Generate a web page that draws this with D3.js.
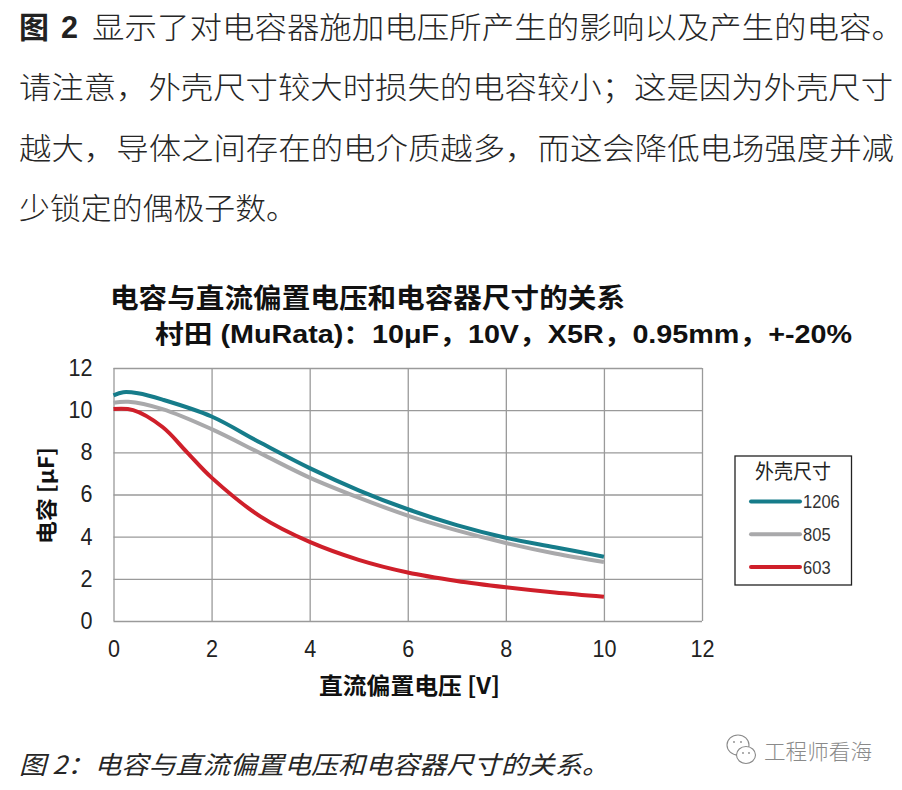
<!DOCTYPE html>
<html>
<head>
<meta charset="utf-8">
<script src="https://cdn.jsdelivr.net/npm/d3@7"></script>
<style>
    html, body { margin: 0; padding: 0; background: #fff; }
    svg { display: block; }
    text { font-family: "Liberation Sans", "Noto Sans CJK SC", sans-serif; }
</style>
</head>
<body>
<div id="chart"></div>
<script>
/*---------------------------Data---------------------------*/

//full width punctuation
const COMMA = "\uFF0C";
const SEMI = "\uFF1B";
const COLON = "\uFF1A";

const BODY_LINES = [
    "显示了对电容器施加电压所产生的影响以及产生的电容。",
    `请注意${COMMA}外壳尺寸较大时损失的电容较小${SEMI}这是因为外壳尺寸`,
    `越大${COMMA}导体之间存在的电介质越多${COMMA}而这会降低电场强度并减`,
    "少锁定的偶极子数。"
];
const TITLE_1 = "电容与直流偏置电压和电容器尺寸的关系";
const TITLE_2 = `村田 (MuRata)${COLON}10μF${COMMA}10V${COMMA}X5R${COMMA}0.95mm${COMMA}+-20%`;
const X_LABEL = "直流偏置电压 [V]";
const Y_LABEL = "电容 [μF]";
const LEGEND_TITLE = "外壳尺寸";
const CAPTION = `图 2${COLON}电容与直流偏置电压和电容器尺寸的关系。`;
const WATERMARK = "工程师看海";

const X_TICKS = [0, 2, 4, 6, 8, 10, 12];
const Y_TICKS = [0, 2, 4, 6, 8, 10, 12];

const SIZES = ["1206", "805", "603"];
const VOLTS_1206 = [0, 0.2, 0.5, 1, 2, 3, 4, 5, 6, 7, 8, 9, 10];
const CAP_1206 = [10.7, 10.85, 10.8, 10.5, 9.7, 8.45, 7.25, 6.2, 5.3, 4.55, 3.95, 3.5, 3.05];
const VOLTS_805 = [0, 0.3, 1, 2, 3, 4, 5, 6, 7, 8, 9, 10];
const CAP_805 = [10.35, 10.4, 10.05, 9.1, 7.95, 6.8, 5.85, 5.0, 4.3, 3.7, 3.2, 2.8];
const VOLTS_603 = [0, 0.4, 1, 1.5, 2, 3, 4, 5, 6, 7, 8, 9, 10];
const CAP_603 = [10.05, 10.0, 9.2, 8.0, 6.8, 4.95, 3.75, 2.9, 2.3, 1.9, 1.6, 1.35, 1.15];

/*---------------------------Init---------------------------*/

const WIDTH = 902;
const HEIGHT = 790;
const PLOT = { left: 113.5, right: 702, top: 368, bottom: 621 };
const COLOR = { "1206": "#167c8a", "805": "#a9a9ab", "603": "#cf1f2a" };
const TEXT_COLOR = "#262626";
const CJK = '"Noto Sans CJK SC", sans-serif';

const svg = d3.select("#chart").append("svg").attr("width", WIDTH).attr("height", HEIGHT);

const xScale = d3.scaleLinear().domain([0, 12]).range([PLOT.left, PLOT.right]);
const yScale = d3.scaleLinear().domain([0, 12]).range([PLOT.bottom, PLOT.top]);

//helper for fitted text

const addText = (str, x, y, size, width, opts = {}) => {
    const t = svg.append("text")
        .attr("x", x)
        .attr("y", y)
        .attr("font-size", size)
        .attr("fill", opts.fill || "#111")
        .attr("font-weight", opts.weight || "normal")
        .style("font-family", opts.family || null)
        .style("font-style", opts.italic ? "italic" : null)
        .text(str);
    if (width) t.attr("textLength", width).attr("lengthAdjust", "spacingAndGlyphs");
    return t;
};

/*---------------------------Body text---------------------------*/

addText("图", 19, 38, 30, 30, { weight: 700, family: CJK, fill: "#222" });
addText("2", 61, 38, 31, 17, { weight: 700, fill: "#222" });
addText(BODY_LINES[0], 92, 38, 30, 812, { fill: TEXT_COLOR, family: CJK }).attr("font-weight", 300);
addText(BODY_LINES[1], 19, 98, 30, 874, { fill: TEXT_COLOR, family: CJK }).attr("font-weight", 300);
addText(BODY_LINES[2], 19, 159, 30, 875, { fill: TEXT_COLOR, family: CJK }).attr("font-weight", 300);
addText(BODY_LINES[3], 19, 219, 30, 278, { fill: TEXT_COLOR, family: CJK }).attr("font-weight", 300);

/*---------------------------Chart---------------------------*/

addText(TITLE_1, 110, 308, 27, 515, { weight: 700, family: CJK });
addText(TITLE_2, 155, 343, 25, 697, { weight: 700 });

//grid and axes

const yAxis = d3.axisLeft(yScale).tickValues(Y_TICKS).tickFormat(d3.format("d"))
    .tickSize(-(PLOT.right - PLOT.left)).tickPadding(21);
const xAxis = d3.axisBottom(xScale).tickValues(X_TICKS).tickFormat(d3.format("d"))
    .tickSize(-(PLOT.bottom - PLOT.top)).tickPadding(20);

[
    svg.append("g").attr("transform", `translate(${PLOT.left},0)`).call(yAxis),
    svg.append("g").attr("transform", `translate(0,${PLOT.bottom})`).call(xAxis)
].forEach(g => {
    g.select(".domain").remove();
    g.selectAll("line").attr("stroke", "#9a9a9a").attr("stroke-width", 1.3);
    g.selectAll("text").attr("font-size", 23).attr("fill", "#222")
        .style("font-family", '"Liberation Sans", sans-serif')
        .attr("textLength", d => String(d).length * 12)
        .attr("lengthAdjust", "spacingAndGlyphs");
});

//curves

const lineGen = d3.line().x(d => xScale(d[0])).y(d => yScale(d[1])).curve(d3.curveCatmullRom.alpha(0.5));

const seriesData = {
    "1206": d3.zip(VOLTS_1206, CAP_1206),
    "805": d3.zip(VOLTS_805, CAP_805),
    "603": d3.zip(VOLTS_603, CAP_603)
};

svg.append("g").selectAll("path")
    .data(SIZES)
    .enter()
    .append("path")
    .attr("d", d => lineGen(seriesData[d]))
    .attr("fill", "none")
    .attr("stroke", d => COLOR[d])
    .attr("stroke-width", 4);

//axis labels

addText(X_LABEL, 319, 694, 23, 181, { weight: 700, family: CJK });
addText(Y_LABEL, 0, 0, 21, 97, { weight: 700, family: CJK })
    .attr("transform", "translate(54,544) rotate(-90)");

//legend

svg.append("rect")
    .attr("x", 735).attr("y", 456)
    .attr("width", 116.5).attr("height", 129)
    .attr("fill", "#fff").attr("stroke", "#222").attr("stroke-width", 1.3);

addText(LEGEND_TITLE, 755, 479, 20, 76, { family: CJK, fill: "#222" });

const legendY = d3.scalePoint().domain(SIZES).range([501.5, 567]);

const legendRow = svg.append("g").selectAll("g")
    .data(SIZES)
    .enter()
    .append("g")
    .attr("transform", d => `translate(0,${legendY(d)})`);

legendRow.append("line")
    .attr("x1", 751).attr("x2", 800)
    .attr("stroke", d => COLOR[d]).attr("stroke-width", 4).attr("stroke-linecap", "round");

legendRow.append("text")
    .attr("x", 803).attr("y", 6.5)
    .attr("font-size", 19).attr("fill", "#333")
    .attr("textLength", d => d.length * 9.2)
    .attr("lengthAdjust", "spacingAndGlyphs")
    .text(d => d);

/*---------------------------Caption---------------------------*/

addText(CAPTION, 19, 774, 25, 590, { italic: true, family: CJK, fill: "#262626" });
addText(WATERMARK, 764, 759, 21, 108, { family: CJK, fill: "#8a8a8a" }).attr("font-weight", 300);

//wechat style mark

const mark = svg.append("g").attr("fill", "#fff").attr("stroke", "#8a8a8a").attr("stroke-width", 1.1);
mark.append("ellipse").attr("cx", 738).attr("cy", 745).attr("rx", 11).attr("ry", 10);
mark.append("ellipse").attr("cx", 746).attr("cy", 755).attr("rx", 9.5).attr("ry", 8.5);
mark.selectAll("circle")
    .data([[734, 742], [741, 742], [743, 753], [749, 753]])
    .enter()
    .append("circle")
    .attr("cx", d => d[0]).attr("cy", d => d[1]).attr("r", 0.9)
    .attr("fill", "#8a8a8a").attr("stroke", "none");
</script>
</body>
</html>
